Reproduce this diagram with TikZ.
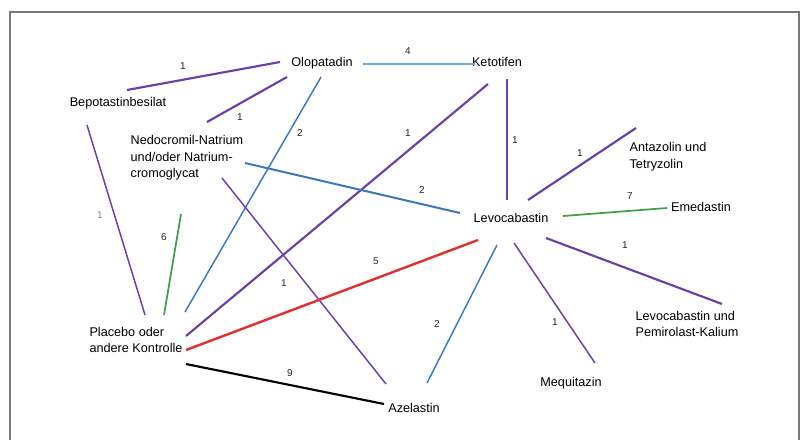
\documentclass[tikz,border=0pt]{standalone}
\usepackage{fontspec}
\setmainfont{Liberation Sans}
\definecolor{purpleC}{HTML}{6A3FA8}
\definecolor{blueC}{HTML}{3A78C2}
\definecolor{lblueC}{HTML}{6AAAD8}
\definecolor{greenC}{HTML}{3FA048}
\definecolor{redC}{HTML}{E0302A}
\definecolor{frameC}{HTML}{7A7A7A}
\begin{document}
\begin{tikzpicture}[x=0.75pt,y=-0.75pt,
  drug/.style={font=\fontsize{9.5}{12.5}\selectfont, inner sep=0pt, align=left, text=black},
  num/.style={font=\fontsize{7.5}{9}\selectfont, inner sep=0pt, text=black!85},
  thick purple/.style={draw=purpleC, line width=1.6pt},
  thin purple/.style={draw=purpleC, line width=1.1pt},
  thick blue/.style={draw=blueC, line width=1.5pt},
  thin blue/.style={draw=blueC, line width=1.1pt},
  light blue/.style={draw=lblueC, line width=1.8pt},
  green line/.style={draw=greenC, line width=1.3pt},
  red line/.style={draw=redC, line width=1.8pt},
  black line/.style={draw=black, line width=1.6pt}]
\useasboundingbox (0,0) rectangle (805,439);
\fill[white] (0,0) rectangle (805,439);
\draw[frameC, line width=0.8pt] (10,445) -- (10,12) -- (799,12) -- (799,445);

% drug nodes
\node[drug] (olo) at (322,63) {Olopatadin};
\node[drug] (ket) at (497,62) {Ketotifen};
\node[drug] (bep) at (118,103) {Bepotastinbesilat};
\node[drug] (ned) at (187,158) {Nedocromil-Natrium\\und/oder Natrium-\\cromoglycat};
\node[drug] (ant) at (668,157) {Antazolin und\\Tetryzolin};
\node[drug] (lev) at (511,218) {Levocabastin};
\node[drug] (eme) at (701,207) {Emedastin};
\node[drug] (lpk) at (687,324) {Levocabastin und\\Pemirolast-Kalium};
\node[drug] (meq) at (571,383) {Mequitazin};
\node[drug] (aze) at (414,408) {Azelastin};
\node[drug] (plc) at (136,340) {Placebo oder\\andere Kontrolle};

% connectors
\draw[thick purple] ([shift={(9,-13)}]bep.center) -- ([shift={(-42,-1)}]olo.center);
\draw[thick purple] ([shift={(-35,14)}]olo.center) -- ([shift={(20,-36)}]ned.center);
\draw[thin blue] ([shift={(-1,14)}]olo.center) -- ([shift={(49,-28)}]plc.center);
\draw[light blue] ([shift={(41,1)}]olo.center) -- ([shift={(-22,2)}]ket.center);
\draw[thin purple] ([shift={(10,17)}]ket.center) -- ([shift={(-4,-18)}]lev.center);
\draw[thick purple] ([shift={(-9,22)}]ket.center) -- ([shift={(50,-4)}]plc.center);
\draw[thick blue] ([shift={(58,5)}]ned.center) -- ([shift={(-51,-5)}]lev.center);
\draw[thin purple] ([shift={(35,20)}]ned.center) -- ([shift={(-28,-24)}]aze.center);
\draw[green line] ([shift={(-6,56)}]ned.center) -- ([shift={(28,-25)}]plc.center);
\draw[thin purple] ([shift={(-31,22)}]bep.center) -- ([shift={(9,-25)}]plc.center);
\draw[red line] ([shift={(-33,22)}]lev.center) -- ([shift={(50,10)}]plc.center);
\draw[black line] ([shift={(50,24)}]plc.center) -- ([shift={(-30,-4)}]aze.center);
\draw[thin blue] ([shift={(-14,27)}]lev.center) -- ([shift={(13,-25)}]aze.center);
\draw[thin purple] ([shift={(3,25)}]lev.center) -- ([shift={(24,-20)}]meq.center);
\draw[thick purple] ([shift={(35,20)}]lev.center) -- ([shift={(35,-20)}]lpk.center);
\draw[green line] ([shift={(52,-2)}]lev.center) -- ([shift={(-34,1)}]eme.center);
\draw[thick purple] ([shift={(17,-18)}]lev.center) -- ([shift={(-32,-29)}]ant.center);

% numbers
\node[num] (n1) at (183,66) {1};
\node[num] (n2) at (240,117) {1};
\node[num] (n3) at (300,133) {2};
\node[num] (n4) at (408,51) {4};
\node[num] (n5) at (515,140) {1};
\node[num] (n6) at (408,133) {1};
\node[num] (n7) at (422,190) {2};
\node[num] (n8) at (284,283) {1};
\node[num] (n9) at (164,237) {6};
\node[num, text=black!45] (n10) at (100,215) {1};
\node[num] (n11) at (376,261) {5};
\node[num] (n12) at (290,373) {9};
\node[num] (n13) at (437,324) {2};
\node[num] (n14) at (555,322) {1};
\node[num] (n15) at (625,245) {1};
\node[num] (n16) at (630,196) {7};
\node[num] (n17) at (580,153) {1};
\end{tikzpicture}
\end{document}
